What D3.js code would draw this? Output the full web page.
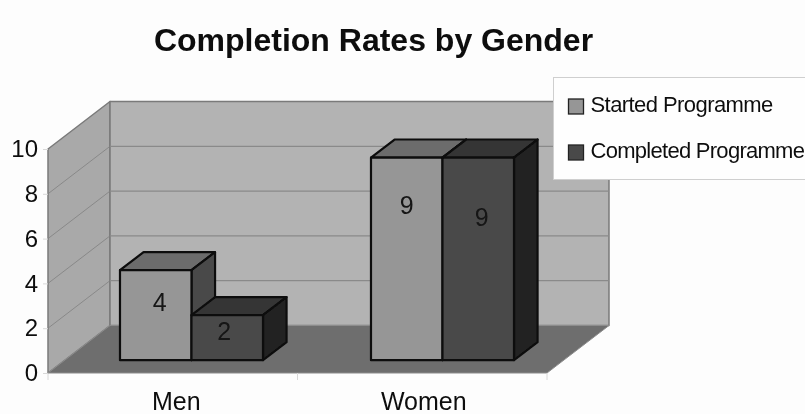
<!DOCTYPE html>
<html><head><meta charset="utf-8">
<script src="https://cdn.jsdelivr.net/npm/d3@7/dist/d3.min.js"></script>
<style>html,body{margin:0;padding:0;background:#fdfdfd}svg{display:block}text{font-family:"Liberation Sans",Arial,sans-serif;fill:#111}</style>
</head><body><svg id="c" width="805" height="414"></svg>
<script>
const categories = ["Men", "Women"];
const seriesNames = ["Started Programme", "Completed Programme"];
const started = [4, 9];
const completed = [2, 9];
const yTicks = [0, 2, 4, 6, 8, 10];
const chartTitle = "Completion Rates by Gender";

const seriesValues = [started, completed];
const frontColors = ["#969696", "#4a4a4a"];
const topColors = ["#6c6c6c", "#343434"];
const sideColors = ["#4a4a4a", "#232323"];
const labelOffsets = [[41, 56], [25, 68]];
const labelShift = [[4, 0], [-3, 3.5]];
const barShift = [2, 3.5];

const svg = d3.select("#c");
const defs = svg.append("defs");
defs.append("filter").attr("id","soft").attr("x","-5%").attr("y","-5%").attr("width","110%").attr("height","110%")
  .append("feGaussianBlur").attr("stdDeviation",0.45);
const root = svg.append("g").attr("filter","url(#soft)");

const x0 = d3.scaleBand().domain(categories).range([48, 547]);
const y = d3.scaleLinear().domain([0, 10]).range([373, 149]);
const DX = 62, DY = -47.5;
const P = (x, yy, d) => [x + DX * d, yy + DY * d];
const poly = (pts, fill, stroke, sw) => root.append("polygon")
  .attr("points", pts.map(p => p.join(",")).join(" "))
  .attr("fill", fill).attr("stroke", stroke || "none").attr("stroke-width", sw || 0)
  .attr("stroke-linejoin","round");

const [xl, xr] = x0.range();
poly([P(xl,y(0),0),P(xl,y(10),0),P(xl,y(10),1),P(xl,y(0),1)], "#a9a9a9", "#7a7a7a", 1.5);
poly([P(xl,y(0),1),P(xl,y(10),1),P(xr,y(10),1),P(xr,y(0),1)], "#b3b3b3", "#7a7a7a", 1.5);
poly([P(xl,y(0),0),P(xl,y(0),1),P(xr,y(0),1),P(xr,y(0),0)], "#6e6e6e", "#8c8c8c", 1);

yTicks.filter(t => t > 0 && t < 10).forEach(t => {
  const a = P(xl,y(t),0), b = P(xl,y(t),1), c = P(xr,y(t),1);
  root.append("line").attr("x1",a[0]).attr("y1",a[1]).attr("x2",b[0]).attr("y2",b[1])
    .attr("stroke","#808080").attr("stroke-width",0.8);
  root.append("line").attr("x1",b[0]).attr("y1",b[1]).attr("x2",c[0]).attr("y2",c[1])
    .attr("stroke","#8a8a8a").attr("stroke-width",1.2);
});

const yAxis = root.append("g").attr("transform",`translate(${xl},0)`)
  .call(d3.axisLeft(y).tickValues(yTicks).tickSize(5).tickPadding(5));
const xAxis = root.append("g").attr("transform",`translate(0,${y(0)})`)
  .call(d3.axisBottom(x0).tickSize(7).tickPadding(12));
[yAxis,xAxis].forEach(g=>{
  g.select(".domain").remove();
  g.selectAll("line").attr("stroke","#d8d8d8");
  g.selectAll("text").attr("font-family","Liberation Sans").attr("fill","#111");
});
yAxis.selectAll("text").attr("font-size",24);
xAxis.selectAll("text").attr("font-size",25).attr("dy","0.71em");
xAxis.selectAll(".tick").filter(d=>d==="Men").select("text").attr("dx",3.5);
xAxis.selectAll(".tick").filter(d=>d==="Women").select("text").attr("dx",1.5);
xAxis.selectAll(".tick line").remove();
[xl, (xl+xr)/2, xr].forEach(x => xAxis.append("line").attr("x1",x).attr("x2",x).attr("y1",0).attr("y2",7).attr("stroke","#d8d8d8"));

const inner = d3.scaleBand().domain(d3.range(seriesNames.length))
  .range([x0.bandwidth()*0.5 - 71.5, x0.bandwidth()*0.5 + 71.5]);
const d0 = 0.27, d1 = 0.65;
const baseY = y(0);
const vScale = v => baseY - (baseY - y(v)) * 1.005;
categories.forEach((cat, ci) => {
  seriesNames.forEach((s, si) => {
    const v = seriesValues[si][ci];
    const a = x0(cat) + inner(si) + barShift[ci], b = a + inner.bandwidth();
    const sw = 2.2;
    const yt = vScale(v);
    poly([P(a,yt,d0),P(a,yt,d1),P(b,yt,d1),P(b,yt,d0)], topColors[si], "#0c0c0c", sw);
    poly([P(b,yt,d0),P(b,yt,d1),P(b,baseY,d1),P(b,baseY,d0)], sideColors[si], "#0c0c0c", sw);
    poly([P(a,yt,d0),P(b,yt,d0),P(b,baseY,d0),P(a,baseY,d0)], frontColors[si], "#0c0c0c", sw);
  });
});
categories.forEach((cat, ci) => {
  seriesNames.forEach((s, si) => {
    const v = seriesValues[si][ci];
    const a = x0(cat) + inner(si) + barShift[ci], b = a + inner.bandwidth();
    const pt = P((a+b)/2, vScale(v), d0);
    root.append("text").attr("x",pt[0]+labelShift[si][ci]).attr("y",pt[1]+labelOffsets[si][ci])
      .attr("text-anchor","middle").attr("font-size",25).style("fill","#151515").text(v);
  });
});

root.append("text").attr("x",373.5).attr("y",51).attr("text-anchor","middle")
  .attr("font-size",32).attr("font-weight","bold").style("fill","#0c0c0c").text(chartTitle);

const lg = root.append("g").attr("transform","translate(553.5,77.5)");
lg.append("rect").attr("width",270).attr("height",102).attr("fill","#fefefe").attr("stroke","#cfcfcf").attr("stroke-width",1);
seriesNames.forEach((s,i)=>{
  const g = lg.append("g").attr("transform",`translate(0,${21.5+i*46})`);
  g.append("rect").attr("x",15).attr("width",15).attr("height",15).attr("fill",frontColors[i]).attr("stroke","#222").attr("stroke-width",1.3);
  g.append("text").attr("x",37).attr("y",13).attr("font-size",22).attr("letter-spacing",i===0?-0.57:-0.72).style("fill","#111").text(s);
});
</script></body></html>
